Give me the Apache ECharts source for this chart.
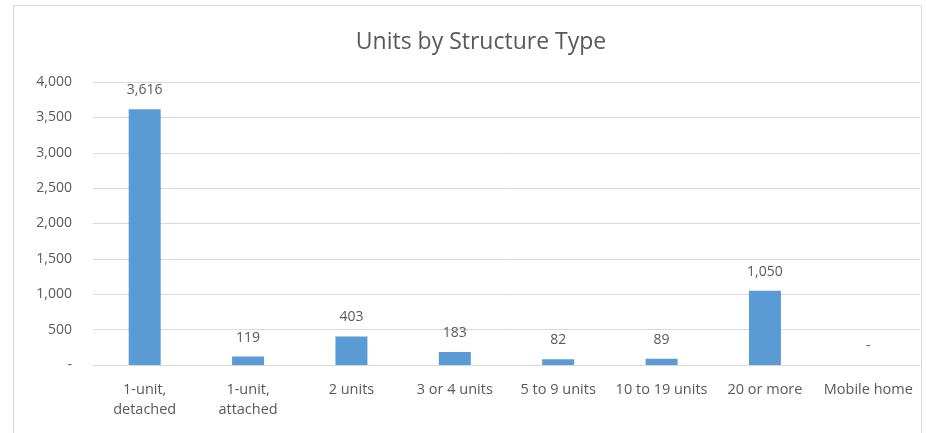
<!DOCTYPE html>
<html><head><meta charset="utf-8">
<script src="https://cdn.jsdelivr.net/npm/echarts@6/dist/echarts.min.js"></script>
<style>html,body{margin:0;padding:0;background:#fff}#c{width:926px;height:433px}</style>
</head><body><div id="c"></div>
<script>
const categories = ['1-unit,\ndetached', '1-unit,\nattached', '2 units', '3 or 4 units', '5 to 9 units', '10 to 19 units', '20 or more', 'Mobile home'];
const units = [3616, 119, 403, 183, 82, 89, 1050, 0];
const yTicks = [0, 500, 1000, 1500, 2000, 2500, 3000, 3500, 4000];

function fmt(v) { return v === 0 ? '-' : v.toLocaleString('en-US'); }
const FONT = '"Open Sans", "Liberation Sans", sans-serif';
const chart = echarts.init(document.getElementById('c'), null, {renderer: 'canvas'});
chart.setOption({
  animation: false,
  backgroundColor: '#fff',
  graphic: [{type: 'rect', shape: {x: 13.5, y: 5.5, width: 908, height: 440}, style: {fill: 'none', stroke: '#d9d9d9', lineWidth: 1}}],
  title: {text: 'Units by Structure Type', left: 476, top: 26, textAlign: 'center',
    textStyle: {fontFamily: FONT, fontSize: 23, fontWeight: 'normal', color: '#595959'}},
  grid: {left: 93, right: 6, top: 82, bottom: 68},
  xAxis: {type: 'category', data: categories,
    axisLine: {lineStyle: {color: '#d9d9d9'}}, axisTick: {show: false},
    axisLabel: {interval: 0, color: '#595959', fontFamily: FONT, fontSize: 14.5, lineHeight: 20, margin: 15}},
  yAxis: {type: 'value', min: yTicks[0], max: yTicks[yTicks.length - 1], interval: 500,
    axisLine: {show: false}, axisTick: {show: false},
    splitLine: {lineStyle: {color: '#d9d9d9'}},
    axisLabel: {color: '#595959', fontFamily: FONT, fontSize: 14, margin: 21, formatter: fmt}},
  series: [{type: 'bar', data: units, barWidth: 32, itemStyle: {color: '#5b9bd5'},
    label: {show: true, position: 'top', distance: 12, color: '#595959', fontFamily: FONT, fontSize: 14,
      formatter: p => fmt(p.value)}}]
});
</script></body></html>
